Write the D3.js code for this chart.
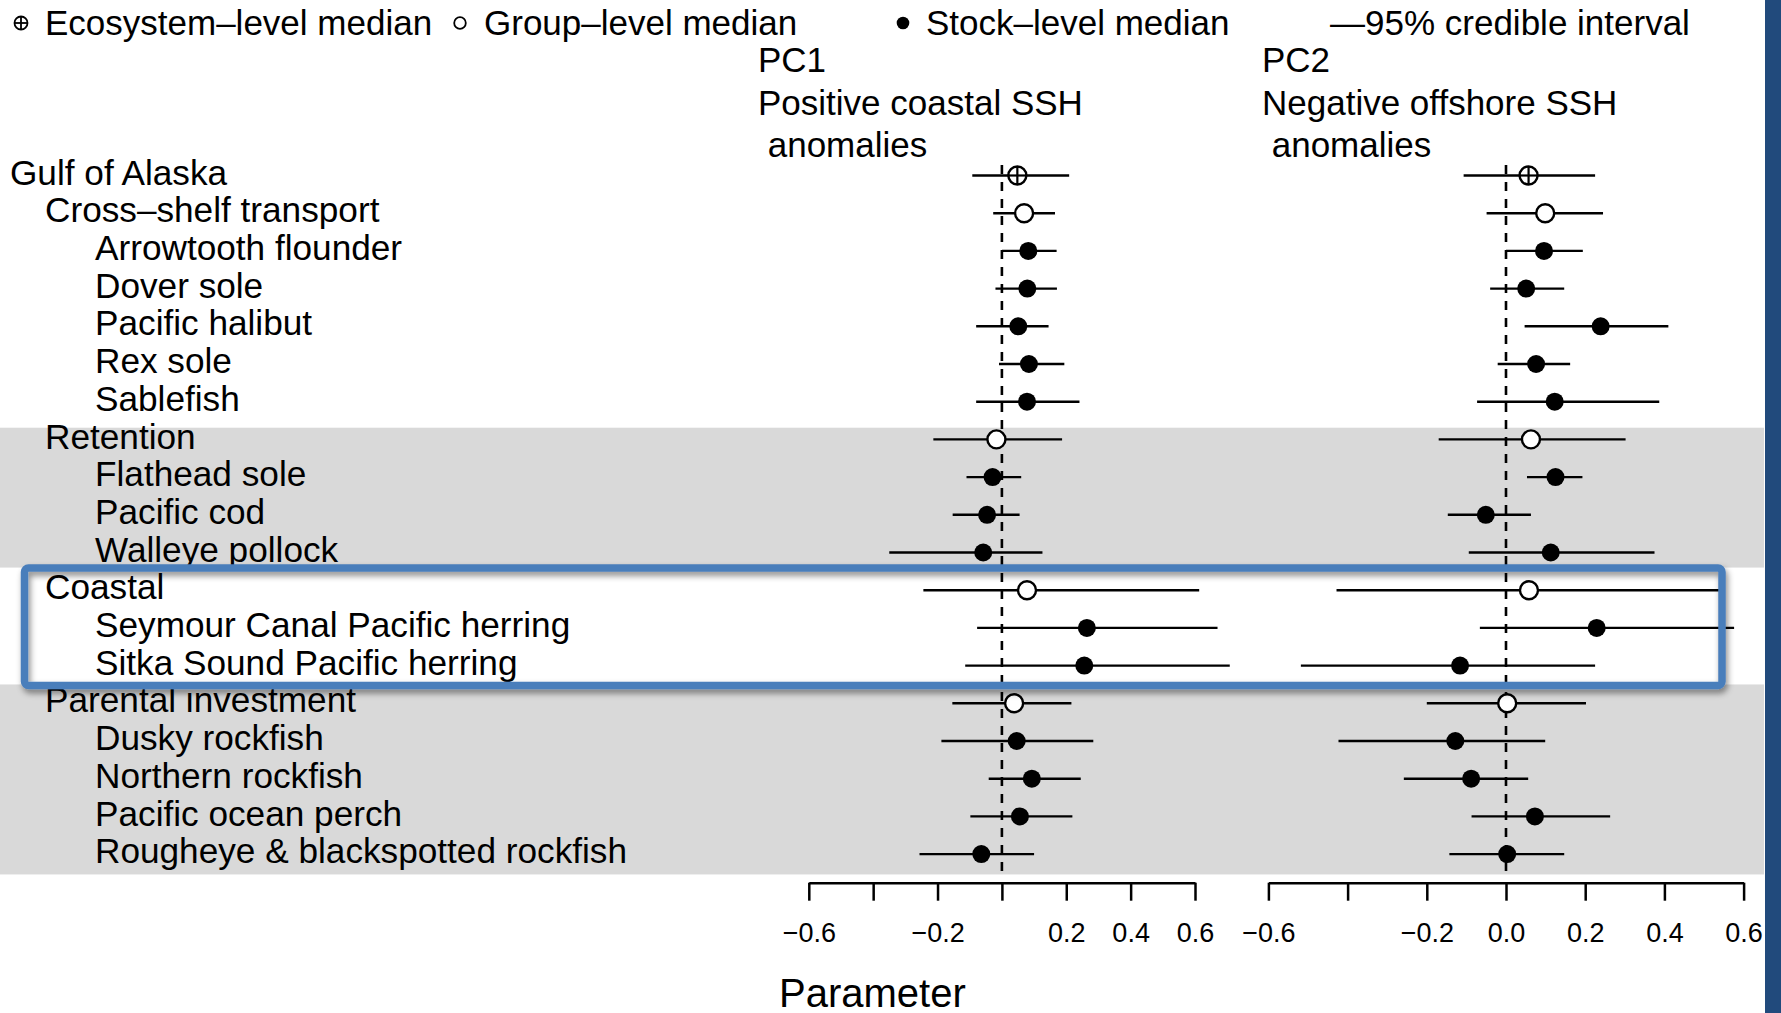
<!DOCTYPE html>
<html>
<head>
<meta charset="utf-8">
<script src="https://cdn.jsdelivr.net/npm/d3@7"></script>
<style>
  body { margin: 0; background: #fff; }
  text { font-family: "Liberation Sans", Arial, Helvetica, sans-serif; fill: #000; }
</style>
</head>
<body>
<div id="chart"></div>
<script>
// rows, top to bottom
const rowLabels = ["Gulf of Alaska", "Cross\u2013shelf transport", "Arrowtooth flounder", "Dover sole",
    "Pacific halibut", "Rex sole", "Sablefish", "Retention", "Flathead sole", "Pacific cod",
    "Walleye pollock", "Coastal", "Seymour Canal Pacific herring", "Sitka Sound Pacific herring",
    "Parental investment", "Dusky rockfish", "Northern rockfish", "Pacific ocean perch",
    "Rougheye & blackspotted rockfish"]
const rowLevel = [0, 1, 2, 2, 2, 2, 2, 1, 2, 2, 2, 1, 2, 2, 1, 2, 2, 2, 2]
const rowType = ["eco", "group", "stock", "stock", "stock", "stock", "stock", "group", "stock", "stock",
    "stock", "group", "stock", "stock", "group", "stock", "stock", "stock", "stock"]

// PC1 posterior summaries
const pc1Median = [0.048, 0.069, 0.082, 0.079, 0.051, 0.084, 0.078, -0.017, -0.029, -0.046,
    -0.058, 0.078, 0.264, 0.256, 0.038, 0.046, 0.093, 0.056, -0.064]
const pc1Lower = [-0.092, -0.027, 0.0, -0.020, -0.080, -0.009, -0.080, -0.213, -0.110, -0.153,
    -0.350, -0.244, -0.077, -0.114, -0.154, -0.188, -0.041, -0.098, -0.256]
const pc1Upper = [0.209, 0.165, 0.170, 0.171, 0.145, 0.194, 0.241, 0.187, 0.060, 0.055,
    0.126, 0.613, 0.670, 0.708, 0.216, 0.284, 0.245, 0.219, 0.100]

// PC2 posterior summaries
const pc2Median = [0.057, 0.099, 0.096, 0.051, 0.239, 0.076, 0.123, 0.063, 0.125, -0.051,
    0.113, 0.058, 0.229, -0.116, 0.003, -0.128, -0.088, 0.073, 0.003]
const pc2Lower = [-0.107, -0.049, 0.0, -0.040, 0.047, -0.021, -0.073, -0.170, 0.053, -0.147,
    -0.094, -0.428, -0.066, -0.518, -0.200, -0.423, -0.258, -0.087, -0.143]
const pc2Upper = [0.225, 0.245, 0.194, 0.147, 0.410, 0.162, 0.387, 0.302, 0.193, 0.063,
    0.375, 0.540, 0.576, 0.225, 0.202, 0.099, 0.056, 0.263, 0.147]

const tickValues = [-0.6, -0.4, -0.2, 0, 0.2, 0.4, 0.6]
const pc1TickLabels = [-0.6, -0.2, 0.2, 0.4, 0.6]
const pc2TickLabels = [-0.6, -0.2, 0, 0.2, 0.4, 0.6]
const panelTitles = [["PC1", "Positive coastal SSH", " anomalies"], ["PC2", "Negative offshore SSH", " anomalies"]]
const legendItems = [
    { type: "eco", text: "Ecosystem\u2013level median" },
    { type: "group", text: "Group\u2013level median" },
    { type: "stock", text: "Stock\u2013level median" },
    { type: "none", text: "\u201495% credible interval" }
]

let width = 1781, height = 1013
let svg = d3.select("#chart").append("svg")
    .attr("width", width)
    .attr("height", height)

svg.append("rect").attr("width", width).attr("height", height).attr("fill", "#fff")

let defs = svg.append("defs")
let shadow = defs.append("filter").attr("id", "shadow")
    .attr("x", "-5%").attr("y", "-20%").attr("width", "110%").attr("height", "150%")
shadow.append("feDropShadow")
    .attr("dx", 2).attr("dy", 4).attr("stdDeviation", 3)
    .attr("flood-color", "#000").attr("flood-opacity", 0.45)

// row positions
let y = d3.scaleLinear().domain([0, 18]).range([175.5, 854.1])

// group bands (row units)
let bands = [[6.69, 10.4], [13.5, 18.54]]
svg.selectAll(".band").data(bands).enter().append("rect")
    .attr("x", 0)
    .attr("y", d => y(d[0]))
    .attr("width", 1764)
    .attr("height", d => y(d[1]) - y(d[0]))
    .attr("fill", "#d9d9d9")

// right side bar
svg.append("rect").attr("x", 1765).attr("y", 0).attr("width", 16).attr("height", height).attr("fill", "#214a7c")

// legend
let legend = svg.append("g")
let legendX = [[21, 45], [460, 484], [903, 926], [0, 1330]]
legendItems.forEach(function(item, i) {
    let sx = legendX[i][0], ly = 23
    if (item.type == "eco") {
        legend.append("circle").attr("cx", sx).attr("cy", ly).attr("r", 6.5)
            .attr("fill", "none").attr("stroke", "#000").attr("stroke-width", 1.8)
        legend.append("line").attr("x1", sx - 6.5).attr("x2", sx + 6.5).attr("y1", ly).attr("y2", ly)
            .attr("stroke", "#000").attr("stroke-width", 1.8)
        legend.append("line").attr("x1", sx).attr("x2", sx).attr("y1", ly - 6.5).attr("y2", ly + 6.5)
            .attr("stroke", "#000").attr("stroke-width", 1.8)
    } else if (item.type == "group") {
        legend.append("circle").attr("cx", sx).attr("cy", ly).attr("r", 5.8)
            .attr("fill", "none").attr("stroke", "#000").attr("stroke-width", 1.8)
    } else if (item.type == "stock") {
        legend.append("circle").attr("cx", sx).attr("cy", ly).attr("r", 6.3).attr("fill", "#000")
    }
    legend.append("text").attr("x", legendX[i][1]).attr("y", ly).attr("dy", "0.33em")
        .style("font-size", "35px").text(item.text)
})

// row labels
svg.selectAll(".rowlab").data(rowLabels).enter().append("text")
    .attr("x", (d, i) => [10, 45, 95][rowLevel[i]])
    .attr("y", (d, i) => y(i))
    .attr("dy", "0.26em")
    .style("font-size", "35.2px")
    .text(d => d)

let panels = [
    { range: [808.8, 1195], med: pc1Median, lo: pc1Lower, hi: pc1Upper, labels: pc1TickLabels, titleX: 758 },
    { range: [1268.4, 1743.6], med: pc2Median, lo: pc2Lower, hi: pc2Upper, labels: pc2TickLabels, titleX: 1262 }
]

panels.forEach(function(p, k) {
    let x = d3.scaleLinear().domain([-0.6, 0.6]).range(p.range)
    let g = svg.append("g")

    // titles
    panelTitles[k].forEach(function(t, j) {
        g.append("text").attr("x", p.titleX).attr("y", [60, 103, 145][j]).attr("dy", "0.33em")
            .style("font-size", "35px").style("white-space", "pre").attr("xml:space", "preserve")
            .text(t)
    })

    // zero line
    g.append("line")
        .attr("x1", x(0)).attr("x2", x(0))
        .attr("y1", y(-0.28)).attr("y2", y(18.47))
        .attr("stroke", "#000").attr("stroke-width", 2.6)
        .attr("stroke-dasharray", "9,8")

    // intervals
    g.selectAll(".ci").data(rowLabels).enter().append("line")
        .attr("x1", (d, i) => x(p.lo[i]))
        .attr("x2", (d, i) => x(p.hi[i]))
        .attr("y1", (d, i) => y(i))
        .attr("y2", (d, i) => y(i))
        .attr("stroke", "#000").attr("stroke-width", 2.4)

    // medians
    rowLabels.forEach(function(d, i) {
        let cx = x(p.med[i]), cy = y(i)
        if (rowType[i] == "stock") {
            g.append("circle").attr("cx", cx).attr("cy", cy).attr("r", 9).attr("fill", "#000")
        } else {
            g.append("circle").attr("cx", cx).attr("cy", cy).attr("r", 9)
                .attr("fill", "#fff").attr("stroke", "#000").attr("stroke-width", 2.4)
            if (rowType[i] == "eco") {
                g.append("line").attr("x1", cx - 9).attr("x2", cx + 9).attr("y1", cy).attr("y2", cy)
                    .attr("stroke", "#000").attr("stroke-width", 2.2)
                g.append("line").attr("x1", cx).attr("x2", cx).attr("y1", cy - 9).attr("y2", cy + 9)
                    .attr("stroke", "#000").attr("stroke-width", 2.2)
            }
        }
    })

    // axis
    let axis = d3.axisBottom(x)
        .tickValues(tickValues)
        .tickSize(18)
        .tickSizeOuter(0)
        .tickPadding(22)
        .tickFormat(v => p.labels.some(l => Math.abs(l - v) < 1e-9) ? d3.format(".1f")(v) : "")
    let ax = g.append("g").attr("transform", "translate(0,882.7)").call(axis)
    ax.select(".domain").attr("stroke-width", 2.5)
    ax.selectAll(".tick line").attr("stroke-width", 2.5)
    ax.selectAll(".tick text").style("font-size", "27px").attr("font-family", null)
})

svg.append("text").attr("x", 779).attr("y", 993).attr("dy", "0.35em")
    .style("font-size", "40px").text("Parameter")

// highlight box around coastal group
svg.append("rect")
    .attr("x", 24.5)
    .attr("y", y(10.41))
    .attr("width", 1722 - 24.5)
    .attr("height", y(13.53) - y(10.41))
    .attr("rx", 4)
    .attr("fill", "none")
    .attr("stroke", "#4a7ebb")
    .attr("stroke-width", 7.5)
    .attr("filter", "url(#shadow)")
</script>
</body>
</html>
